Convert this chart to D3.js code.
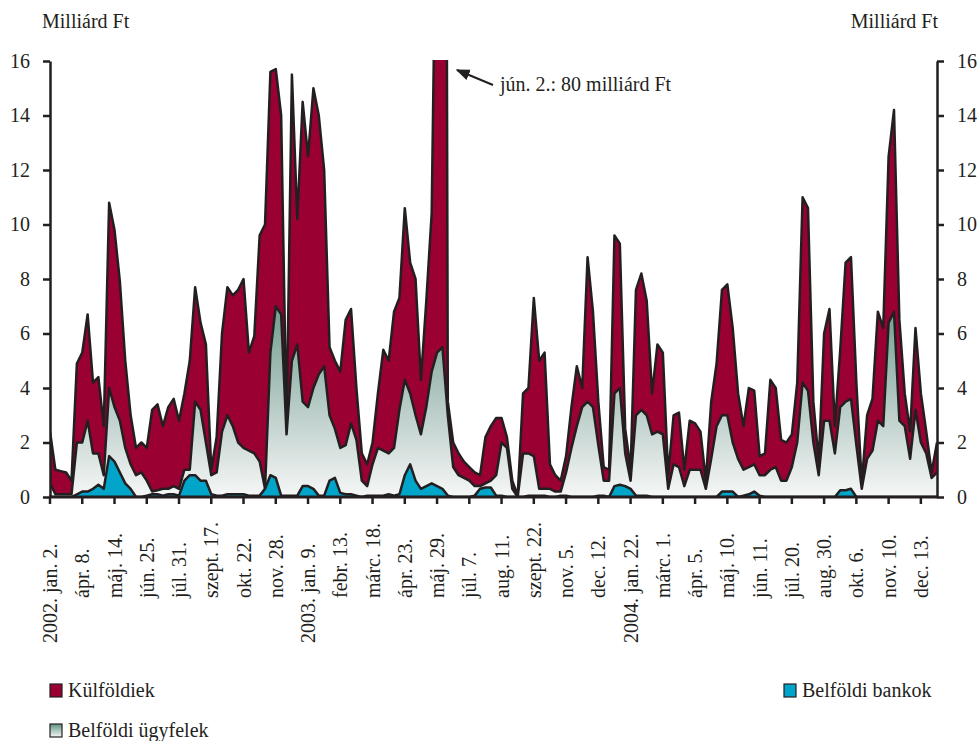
<!DOCTYPE html>
<html lang="hu">
<head>
<meta charset="UTF-8">
<title>Forgalom szereplők szerint</title>
<script src="https://d3js.org/d3.v7.min.js"></script>
<style>
    body { margin: 0; background: #fff; }
    text { font-family: "Liberation Serif", "Times New Roman", serif; fill: #231f20; }
</style>
</head>
<body>
<div id="chart"></div>
<script>
// tick labels, one every 6 data points
var tickLabels = ["2002. jan. 2.", "ápr. 8.", "máj. 14.", "jún. 25.", "júl. 31.", "szept. 17.", "okt. 22.",
    "nov. 28.", "2003. jan. 9.", "febr. 13.", "márc. 18.", "ápr. 23.", "máj. 29.", "júl. 7.", "aug. 11.",
    "szept. 22.", "nov. 5.", "dec. 12.", "2004. jan. 22.", "márc. 1.", "ápr. 5.", "máj. 10.", "jún. 11.",
    "júl. 20.", "aug. 30.", "okt. 6.", "nov. 10.", "dec. 13."];
var tickStep = 6;

// milliárd Ft (areas drawn overlapping, from zero)
var kulfoldiek = [2.4, 1.0, 0.95, 0.9, 0.6, 4.9, 5.3, 6.7, 4.2, 4.4,
    2.6, 10.8, 9.8, 7.9, 5.0, 3.0, 1.8, 2.0, 1.8, 3.2,
    3.4, 2.6, 3.3, 3.6, 2.8, 3.8, 5.0, 7.7, 6.4, 5.6,
    1.0, 2.2, 6.0, 7.7, 7.4, 7.6, 8.0, 5.3, 5.9, 9.6,
    10.0, 15.6, 15.7, 14.0, 2.6, 15.5, 10.2, 14.5, 12.5, 15.0,
    14.0, 12.0, 5.5, 5.0, 4.6, 6.5, 6.9, 4.0, 1.6, 1.2,
    2.0, 3.8, 5.4, 5.0, 6.8, 7.3, 10.6, 8.6, 8.0, 4.3,
    7.2, 10.4, 25, 80, 3.5, 2.0, 1.6, 1.3, 1.1, 0.9,
    0.8, 2.2, 2.6, 2.9, 2.9, 2.2, 0.6, 0.05, 3.8, 4.0,
    7.3, 5.0, 5.3, 1.2, 0.8, 0.6, 1.5, 3.3, 4.8, 4.0,
    8.8, 6.8, 3.5, 1.1, 1.0, 9.6, 9.3, 2.5, 1.0, 7.6,
    8.2, 7.2, 3.8, 5.6, 5.3, 0.8, 3.0, 3.1, 1.0, 2.8,
    2.7, 2.4, 0.6, 3.5, 4.9, 7.6, 7.8, 6.2, 3.8, 2.6,
    4.0, 3.9, 1.5, 1.6, 4.3, 4.0, 2.1, 2.0, 2.3, 4.2,
    11.0, 10.6, 3.5, 1.3, 6.0, 6.9, 2.6, 5.4, 8.6, 8.8,
    4.2, 0.5, 3.0, 3.6, 6.8, 6.2, 12.5, 14.2, 6.5, 3.8,
    2.4, 6.2, 3.8, 2.4, 0.9, 2.0];

var ugyfelek = [0.5, 0.1, 0.1, 0.1, 0.1, 2.0, 2.0, 2.8, 1.6, 1.6,
    0.8, 4.0, 3.3, 2.8, 1.8, 1.2, 0.8, 0.9, 0.6, 0.2,
    0.25, 0.3, 0.3, 0.4, 0.3, 1.0, 1.0, 3.5, 3.2, 2.0,
    0.8, 0.9, 2.4, 3.0, 2.6, 2.0, 1.8, 1.7, 1.6, 1.3,
    0.3, 5.3, 7.0, 6.7, 2.3, 5.0, 5.6, 3.5, 3.3, 4.0,
    4.5, 4.8, 3.0, 2.5, 1.8, 1.9, 2.7, 2.1, 0.6, 0.4,
    1.2, 1.8, 1.7, 1.6, 1.8, 3.2, 4.3, 3.8, 3.0, 2.3,
    3.3, 4.6, 5.3, 5.5, 3.0, 1.1, 0.8, 0.7, 0.6, 0.4,
    0.4, 0.5, 0.6, 0.8, 2.0, 1.8, 0.3, 0, 1.6, 1.6,
    1.5, 0.3, 0.3, 0.3, 0.2, 0.2, 0.9, 1.8, 2.6, 3.3,
    3.5, 3.3, 1.9, 0.6, 0.6, 3.8, 4.0, 1.6, 0.6, 3.0,
    3.2, 3.0, 2.3, 2.4, 2.3, 0.3, 1.2, 1.1, 0.4, 1.0,
    1.0, 1.0, 0.3, 1.4, 2.6, 3.0, 3.0, 2.0, 1.4, 1.0,
    1.1, 1.2, 0.8, 0.8, 1.0, 1.1, 0.6, 0.6, 1.1, 2.0,
    4.2, 3.9, 2.0, 0.8, 2.8, 2.8, 1.6, 3.3, 3.5, 3.6,
    1.9, 0.3, 1.4, 1.7, 2.8, 2.6, 6.4, 6.8, 2.8, 2.6,
    1.4, 3.2, 2.0, 1.6, 0.7, 0.9];

var bankok = [0, 0, 0, 0, 0, 0.1, 0.2, 0.2, 0.3, 0.45,
    0.3, 1.5, 1.3, 0.9, 0.5, 0.3, 0, 0, 0.05, 0.1,
    0.1, 0.05, 0.1, 0.1, 0.05, 0.6, 0.8, 0.8, 0.6, 0.6,
    0.1, 0.05, 0.05, 0.1, 0.1, 0.1, 0.1, 0.05, 0.05, 0.05,
    0.3, 0.8, 0.7, 0.05, 0.05, 0.05, 0.05, 0.4, 0.4, 0.3,
    0.05, 0.05, 0.6, 0.7, 0.15, 0.1, 0.1, 0.05, 0, 0.05,
    0.05, 0.05, 0.05, 0.1, 0.05, 0.1, 0.8, 1.2, 0.6, 0.3,
    0.4, 0.5, 0.4, 0.3, 0.05, 0, 0, 0, 0, 0.05,
    0.3, 0.35, 0.35, 0.05, 0.05, 0, 0, 0, 0, 0.05,
    0.05, 0.05, 0.05, 0, 0, 0.05, 0.05, 0, 0, 0,
    0, 0, 0.05, 0.05, 0, 0.4, 0.45, 0.4, 0.3, 0.05,
    0.05, 0.05, 0, 0, 0, 0, 0, 0, 0, 0,
    0, 0, 0, 0, 0, 0.2, 0.2, 0.2, 0, 0.05,
    0.1, 0.2, 0.05, 0, 0, 0, 0, 0, 0, 0,
    0, 0, 0, 0, 0, 0, 0, 0.25, 0.25, 0.3,
    0, 0, 0, 0, 0, 0, 0, 0, 0, 0,
    0, 0, 0, 0, 0, 0];

var yTicks = [0, 2, 4, 6, 8, 10, 12, 14, 16];

var width = 979, height = 741;
var plotLeft = 50, plotRight = 937, plotTop = 61, plotBottom = 497;
var lineColor = "#231f20";

var svg = d3.select("#chart").append("svg")
    .attr("width", width)
    .attr("height", height);

var x = d3.scaleLinear().domain([0, kulfoldiek.length - 1]).range([plotLeft, plotRight]);
var y = d3.scaleLinear().domain([0, 16]).range([plotBottom, plotTop]);

var defs = svg.append("defs");
defs.append("clipPath").attr("id", "plotClip")
    .append("rect")
    .attr("x", plotLeft).attr("y", plotTop - 1)
    .attr("width", plotRight - plotLeft).attr("height", plotBottom - plotTop + 1);

var grad = defs.append("linearGradient")
    .attr("id", "ugyfelGrad")
    .attr("gradientUnits", "userSpaceOnUse")
    .attr("x1", 0).attr("x2", 0)
    .attr("y1", y(8)).attr("y2", y(0));
grad.append("stop").attr("offset", "0%").attr("stop-color", "#5f957f");
grad.append("stop").attr("offset", "45%").attr("stop-color", "#a3bdb6");
grad.append("stop").attr("offset", "100%").attr("stop-color", "#f6f7f7");

var legendGrad = defs.append("linearGradient")
    .attr("id", "legendGrad")
    .attr("x1", 0).attr("x2", 0).attr("y1", 0).attr("y2", 1);
legendGrad.append("stop").attr("offset", "0%").attr("stop-color", "#5f957f");
legendGrad.append("stop").attr("offset", "100%").attr("stop-color", "#f6f7f7");

var series = [
    { name: "Külföldiek", values: kulfoldiek, fill: "#9b0032" },
    { name: "Belföldi ügyfelek", values: ugyfelek, fill: "url(#ugyfelGrad)" },
    { name: "Belföldi bankok", values: bankok, fill: "#00a5c9" }
];

var area = d3.area()
    .x(function(d, i) { return x(i); })
    .y0(y(0))
    .y1(function(d) { return y(d); });

var line = d3.line()
    .x(function(d, i) { return x(i); })
    .y(function(d) { return y(d); });

var plot = svg.append("g").attr("clip-path", "url(#plotClip)");

series.forEach(function(s) {
    plot.append("path")
        .datum(s.values)
        .attr("d", area)
        .attr("fill", s.fill);
    plot.append("path")
        .datum(s.values)
        .attr("d", line)
        .attr("fill", "none")
        .attr("stroke", lineColor)
        .attr("stroke-width", 2.5)
        .attr("stroke-linejoin", "round");
});

// y axes, both sides
var leftAxis = svg.append("g")
    .attr("transform", "translate(" + plotLeft + ",0)")
    .call(d3.axisLeft(y).tickValues(yTicks).tickSize(7).tickSizeOuter(0).tickPadding(13));
var rightAxis = svg.append("g")
    .attr("transform", "translate(" + plotRight + ",0)")
    .call(d3.axisRight(y).tickValues(yTicks).tickSize(7).tickSizeOuter(0).tickPadding(13));

[leftAxis, rightAxis].forEach(function(ax) {
    ax.select(".domain").attr("stroke", lineColor).attr("stroke-width", 2.5);
    ax.selectAll(".tick line").attr("stroke", lineColor).attr("stroke-width", 2.5);
    ax.selectAll(".tick text")
        .style("font-family", "Liberation Serif, serif")
        .style("font-size", "20px")
        .attr("fill", lineColor);
});

// x axis
svg.append("line")
    .attr("x1", plotLeft - 1).attr("x2", plotRight + 1)
    .attr("y1", plotBottom).attr("y2", plotBottom)
    .attr("stroke", lineColor).attr("stroke-width", 3);

var xTicks = svg.append("g").selectAll("g")
    .data(tickLabels)
    .enter().append("g")
    .attr("transform", function(d, i) { return "translate(" + x(i * tickStep) + "," + plotBottom + ")"; });

xTicks.append("line")
    .attr("y1", 0).attr("y2", 7)
    .attr("stroke", lineColor).attr("stroke-width", 2.5);

var labelStart = 101; // distance below the axis where the day part starts
xTicks.append("text")
    .attr("transform", "rotate(-90)")
    .attr("dy", "0.35em")
    .attr("text-anchor", "start")
    .style("font-size", "20px")
    .text(function(d) { return d; })
    .attr("x", function(d) {
        var m = d.match(/^\d{4}\. /);
        var shift = 0;
        if (m) {
            var tmp = svg.append("text").style("font-size", "20px").text(m[0]);
            shift = tmp.node().getComputedTextLength();
            tmp.remove();
        }
        return -(labelStart + shift);
    });

// unit labels
svg.append("text").attr("x", 42).attr("y", 28).style("font-size", "20px").text("Milliárd Ft");
svg.append("text").attr("x", 938).attr("y", 28).attr("text-anchor", "end").style("font-size", "20px").text("Milliárd Ft");

// annotation for the off-scale value
defs.append("marker")
    .attr("id", "arrow")
    .attr("viewBox", "0 0 10 10")
    .attr("refX", 9).attr("refY", 5)
    .attr("markerWidth", 7).attr("markerHeight", 7)
    .attr("orient", "auto")
    .append("path").attr("d", "M0,1 L10,5 L0,9 Z").attr("fill", lineColor);

svg.append("line")
    .attr("x1", 493).attr("y1", 85)
    .attr("x2", 457).attr("y2", 70)
    .attr("stroke", lineColor).attr("stroke-width", 2)
    .attr("marker-end", "url(#arrow)");
svg.append("text").attr("x", 500).attr("y", 91).style("font-size", "20px").text("jún. 2.: 80 milliárd Ft");

// legend
var legendItems = [
    { name: "Külföldiek", fill: "#9b0032", x: 50, y: 684 },
    { name: "Belföldi bankok", fill: "#00a5c9", x: 784, y: 684 },
    { name: "Belföldi ügyfelek", fill: "url(#legendGrad)", x: 50, y: 724 }
];
var legend = svg.append("g").selectAll("g")
    .data(legendItems)
    .enter().append("g")
    .attr("transform", function(d) { return "translate(" + d.x + "," + d.y + ")"; });
legend.append("rect")
    .attr("width", 12).attr("height", 13)
    .attr("fill", function(d) { return d.fill; })
    .attr("stroke", lineColor).attr("stroke-width", 1.2);
legend.append("text")
    .attr("x", 18).attr("y", 13)
    .style("font-size", "20px")
    .text(function(d) { return d.name; });
</script>
</body>
</html>
